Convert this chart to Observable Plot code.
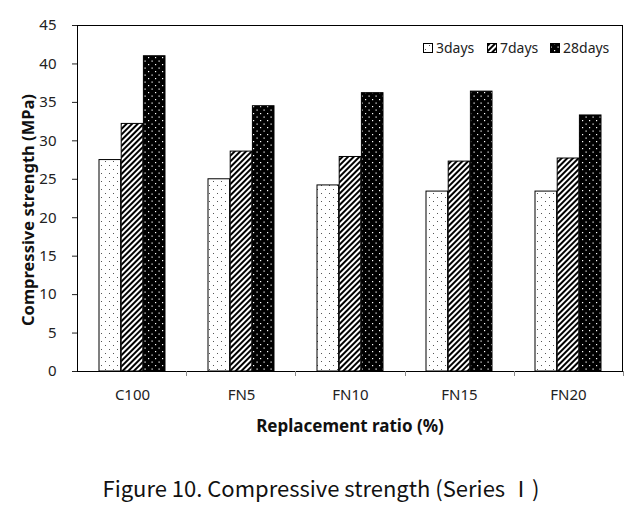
<!DOCTYPE html>
<html><head><meta charset="utf-8">
<script src="https://cdn.jsdelivr.net/npm/d3@7"></script>
<script src="https://cdn.jsdelivr.net/npm/@observablehq/plot@0.6"></script>
<style>
body{margin:0;background:#fff;width:642px;height:519px;position:relative;overflow:hidden;}
#caption{position:absolute;left:0;top:473px;width:642px;text-align:center;font-family:"Noto Sans CJK KR","Noto Sans",sans-serif;font-size:22px;font-weight:400;color:#111;line-height:28px;}
</style></head><body>
<svg width="0" height="0" style="position:absolute">
<defs>
<pattern id="p3" width="8" height="8" patternUnits="userSpaceOnUse"><rect width="8" height="8" fill="#fff"/><rect x="1" y="1" width="1" height="1" fill="#555"/><rect x="5" y="5" width="1" height="1" fill="#555"/></pattern>
<pattern id="p7" width="4" height="4" patternUnits="userSpaceOnUse" patternTransform="rotate(45)"><rect width="4" height="4" fill="#fff"/><rect width="2" height="4" fill="#000"/></pattern>
<pattern id="p28" width="7" height="7" patternUnits="userSpaceOnUse"><rect width="7" height="7" fill="#000"/><rect x="1" y="1" width="1.2" height="1.2" fill="#fff"/><rect x="4.5" y="4.5" width="1.2" height="1.2" fill="#fff"/></pattern>
</defs></svg>
<div id="chart"></div>
<div id="caption">Figure 10. Compressive strength (Series Ⅰ)</div>
<script>
const categories = ["C100", "FN5", "FN10", "FN15", "FN20"];
const seriesNames = ["3days", "7days", "28days"];
const days3 = [27.5, 25.0, 24.2, 23.4, 23.4];
const days7 = [32.2, 28.6, 27.9, 27.3, 27.7];
const days28 = [41.0, 34.5, 36.2, 36.4, 33.3];
const yTicks = [0, 5, 10, 15, 20, 25, 30, 35, 40, 45];
const patterns = ["url(#p3)", "url(#p7)", "url(#p28)"];

const seriesValues = [days3, days7, days28];
const tables = seriesValues.map(vals => categories.map((c, i) => ({cat: c, value: vals[i]})));

const W = 642, H = 445, mL = 77, mR = 19, mT = 25, mB = 74;
const padIn = 0.39;
const step = (W - mL - mR) / categories.length;
const bw = step * (1 - padIn);
const sub = bw / seriesNames.length;

const plot = Plot.plot({
  width: W, height: H,
  marginLeft: mL, marginRight: mR, marginTop: mT, marginBottom: mB,
  style: {fontFamily: "'Noto Sans', sans-serif", fontSize: "15px", color: "#222", background: "#fff"},
  x: {domain: categories, paddingInner: padIn, paddingOuter: padIn / 2, label: null, tickSize: 0, tickPadding: 18},
  y: {domain: [0, 45], ticks: yTicks, tickSize: 5, tickPadding: 16, label: null},
  marks: tables.map((t, j) => Plot.barY(t, {
    x: "cat", y: "value", fill: patterns[j], stroke: "#000", strokeWidth: 1,
    insetLeft: j * sub, insetRight: (seriesNames.length - 1 - j) * sub
  }))
});
document.getElementById("chart").appendChild(plot);

const svg = d3.select(plot);
// frame
svg.append("rect").attr("x", mL + 0.5).attr("y", mT + 0.5).attr("width", W - mL - mR - 1).attr("height", H - mT - mB)
  .attr("fill", "none").attr("stroke", "#000").attr("stroke-width", 1);
// category boundary ticks
for (let i = 1; i <= categories.length; i++) {
  const x = Math.round(mL + i * step) + 0.5;
  svg.append("line").attr("x1", x).attr("x2", x).attr("y1", H - mB).attr("y2", H - mB + 5).attr("stroke", "#888");
}
// axis titles
svg.append("text").attr("x", mL + (W - mL - mR) / 2).attr("y", 432).attr("text-anchor", "middle")
  .attr("font-weight", "bold").attr("font-size", 17).attr("fill", "#111").text("Replacement ratio (%)");
svg.append("text").attr("transform", "translate(34,210) rotate(-90)").attr("text-anchor", "middle")
  .attr("font-weight", "bold").attr("font-size", 16.5).attr("fill", "#111").text("Compressive strength (MPa)");
// legend
const lx = [423, 487, 550];
seriesNames.forEach((s, j) => {
  svg.append("rect").attr("x", lx[j] + 0.5).attr("y", 43.5).attr("width", 9).attr("height", 9)
    .attr("fill", patterns[j]).attr("stroke", "#000").attr("stroke-width", 1);
  svg.append("text").attr("x", lx[j] + 13).attr("y", 53).attr("text-anchor", "start")
    .attr("font-size", 14).attr("fill", "#222").text(s);
});
</script>
</body></html>
